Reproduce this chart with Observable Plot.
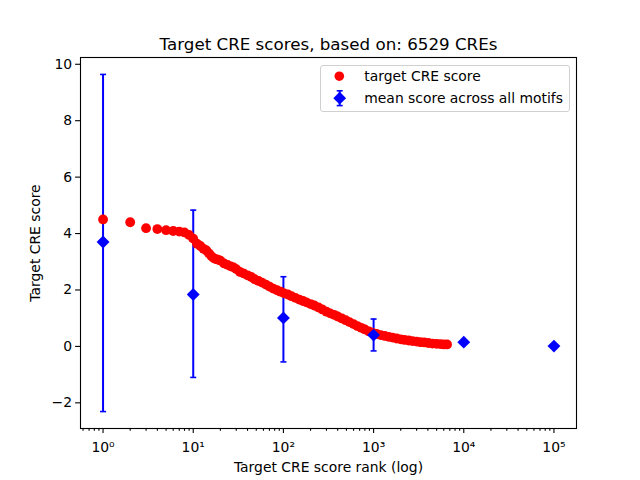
<!DOCTYPE html>
<html>
<head>
<meta charset="utf-8">
<script src="https://cdn.jsdelivr.net/npm/d3@7"></script>
<script src="https://cdn.jsdelivr.net/npm/@observablehq/plot@0.6"></script>
<style>
  body { margin: 0; background: white; }
  #wrap { position: relative; width: 640px; height: 480px; font-family: "DejaVu Sans", sans-serif; }
  #legend { position: absolute; left: 320px; top: 65px; width: 248px; height: 45px;
    border: 1px solid #d0d0d0; border-radius: 3px; background: rgba(255,255,255,0.8); }
</style>
</head>
<body>
<div id="wrap"></div>
<script>
// Target CRE scores (red), by rank
const ranks = [1,2,3,4,5,6,7,8,9,10,11,12,13,14,15,16,17,18,19,20,22,24,26,28,30,33,36,40,44,48,53,58,64,70,77,85,93,102,112,123,136,150,165,180,200,220,245,270,300,330,365,400,445,490,540,600,660,730,800,890,980,1080,1200,1330,1470,1620,1800,2000,2200,2450,2700,3000,3300,3650,4050,4500,5000,5500,6000,6529];
const scores = [4.50,4.40,4.19,4.16,4.12,4.09,4.07,4.04,3.95,3.82,3.64,3.56,3.46,3.40,3.29,3.19,3.12,3.09,3.07,3.04,2.94,2.89,2.84,2.80,2.74,2.64,2.59,2.52,2.46,2.38,2.32,2.26,2.19,2.12,2.05,1.99,1.94,1.88,1.84,1.78,1.72,1.66,1.61,1.56,1.50,1.45,1.38,1.31,1.23,1.17,1.12,1.06,0.99,0.93,0.86,0.79,0.72,0.66,0.60,0.53,0.48,0.44,0.40,0.37,0.34,0.31,0.28,0.25,0.23,0.21,0.19,0.17,0.15,0.14,0.12,0.10,0.09,0.08,0.07,0.07];

// Mean score across all motifs (blue) with error bars
const motifRanks = [1, 10, 100, 1000, 10000, 100000];
const motifMeans = [3.70, 1.84, 1.01, 0.40, 0.15, 0.01];
const motifLow   = [-2.31, -1.10, -0.55, -0.16, 0.13, -0.01];
const motifHigh  = [9.64, 4.83, 2.47, 0.97, 0.17, 0.03];

// Axis ticks
const xDomain = [0.5623, 177828];
const xMajorTicks = [1, 10, 100, 1000, 10000, 100000];
const xTickLabels = ["10\u2070", "10\u00b9", "10\u00b2", "10\u00b3", "10\u2074", "10\u2075"];
const xMinorTicks = [];
for (let e = -1; e <= 5; e++) for (let m = 2; m <= 9; m++) {
  const v = m * Math.pow(10, e);
  if (v >= xDomain[0] && v <= xDomain[1]) xMinorTicks.push(v);
}
const yTicks = [-2, 0, 2, 4, 6, 8, 10];

const titleText = "Target CRE scores, based on: 6529 CREs";
const xLabel = "Target CRE score rank (log)";
const yLabel = "Target CRE score";

const red = ranks.map((r, i) => ({rank: r, score: scores[i]}));
const blue = motifRanks.map((r, i) => ({rank: r, mean: motifMeans[i], lo: motifLow[i], hi: motifHigh[i]}));
const labelMap = new Map(xMajorTicks.map((t, i) => [t, xTickLabels[i]]));

const capSymbol = { draw(ctx, size) { ctx.moveTo(-3, 0); ctx.lineTo(3, 0); } };

const chart = Plot.plot({
  width: 640, height: 480,
  marginLeft: 80, marginRight: 64, marginTop: 57, marginBottom: 52,
  style: { fontFamily: "DejaVu Sans", fontSize: "13.9px", color: "black", background: "white" },
  x: { type: "log", domain: xDomain },
  y: { domain: [-2.91, 10.24] },
  marks: [
    Plot.axisX(xMinorTicks, { tickSize: 2.8, tickFormat: () => "", strokeWidth: 1.1, label: null }),
    Plot.axisX(xMajorTicks, { tickSize: 4.9, tickPadding: 9, strokeWidth: 1.1, tickFormat: d => labelMap.get(d), label: null, fontSize: 13.9 }),
    Plot.axisY(yTicks, { tickSize: 4.9, tickPadding: 3.5, strokeWidth: 1.1, label: null, fontSize: 13.9 }),
    Plot.ruleX(blue, { x: "rank", y1: "lo", y2: "hi", stroke: "#0000ff", strokeWidth: 2 }),
    Plot.dot(blue, { x: "rank", y: "lo", symbol: capSymbol, stroke: "#0000ff", strokeWidth: 1.6, fill: "none" }),
    Plot.dot(blue, { x: "rank", y: "hi", symbol: capSymbol, stroke: "#0000ff", strokeWidth: 1.6, fill: "none" }),
    Plot.dot(red, { x: "rank", y: "score", r: 4.9, fill: "#ff0000", stroke: "none" }),
    Plot.dot(blue, { x: "rank", y: "mean", symbol: "diamond2", r: 5.8, fill: "#0000ff", stroke: "none" }),
    Plot.frame({ stroke: "black", strokeWidth: 1.1 }),
    Plot.text([titleText], { frameAnchor: "top", dy: -13, lineAnchor: "middle", fontSize: 16.7, fill: "black" }),
    Plot.text([xLabel], { frameAnchor: "bottom", dy: 38.7, lineAnchor: "middle", fontSize: 13.9, fill: "black" }),
    Plot.text([yLabel], { frameAnchor: "left", dx: -45, rotate: -90, lineAnchor: "middle", textAnchor: "middle", fontSize: 13.9, fill: "black" })
  ]
});
const wrap = document.getElementById("wrap");
wrap.appendChild(chart);

const legend = document.createElement("div");
legend.id = "legend";
legend.innerHTML = `<svg width="248" height="45" style="font-family:'DejaVu Sans';font-size:13.9px">
  <circle cx="18.3" cy="10.2" r="4.8" fill="#ff0000"/>
  <text x="43.3" y="10.2" dominant-baseline="central" fill="black">target CRE score</text>
  <line x1="18.7" x2="18.7" y1="24.8" y2="39.6" stroke="#0000ff" stroke-width="2"/>
  <line x1="15.7" x2="21.7" y1="24.8" y2="24.8" stroke="#0000ff" stroke-width="1.6"/>
  <line x1="15.7" x2="21.7" y1="39.6" y2="39.6" stroke="#0000ff" stroke-width="1.6"/>
  <path d="M18.7,25.8 L25.1,32.2 L18.7,38.6 L12.3,32.2 Z" fill="#0000ff"/>
  <text x="43.3" y="32.2" dominant-baseline="central" fill="black">mean score across all motifs</text>
</svg>`;
wrap.appendChild(legend);
</script>
</body>
</html>
